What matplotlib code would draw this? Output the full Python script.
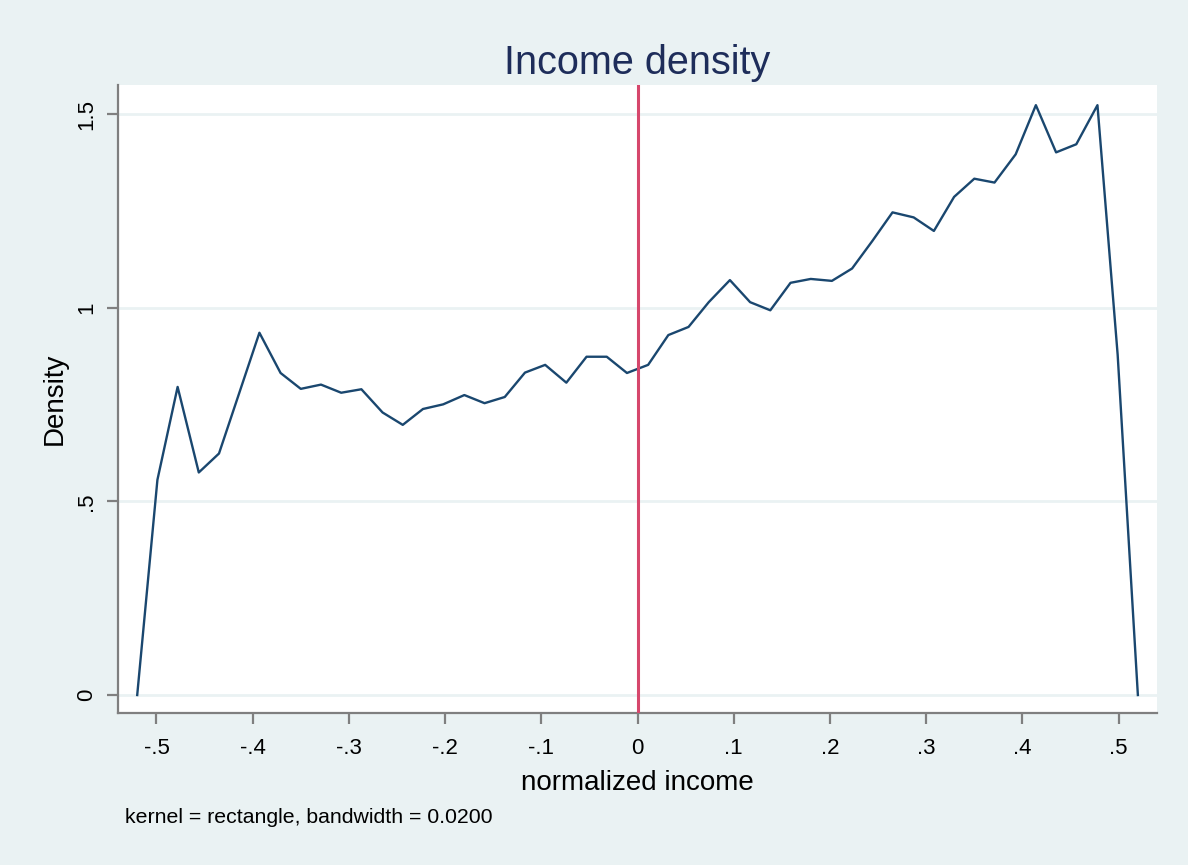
import matplotlib.pyplot as plt

# evaluation points of the kernel density (50 points)
income = [-0.520, -0.499, -0.478, -0.456, -0.435, -0.414, -0.393, -0.371, -0.350, -0.329,
          -0.308, -0.287, -0.265, -0.244, -0.223, -0.202, -0.180, -0.159, -0.138, -0.117,
          -0.096, -0.074, -0.053, -0.032, -0.011, 0.011, 0.032, 0.053, 0.074, 0.096,
          0.117, 0.138, 0.159, 0.180, 0.202, 0.223, 0.244, 0.265, 0.287, 0.308,
          0.329, 0.350, 0.371, 0.393, 0.414, 0.435, 0.456, 0.478, 0.499, 0.520]
density = [0.000, 0.556, 0.796, 0.575, 0.624, 0.780, 0.936, 0.832, 0.791, 0.802,
           0.781, 0.790, 0.730, 0.698, 0.739, 0.751, 0.775, 0.754, 0.770, 0.833,
           0.853, 0.807, 0.874, 0.874, 0.832, 0.853, 0.930, 0.951, 1.015, 1.072,
           1.015, 0.994, 1.065, 1.075, 1.070, 1.102, 1.173, 1.247, 1.234, 1.199,
           1.287, 1.334, 1.324, 1.397, 1.524, 1.402, 1.423, 1.524, 0.879, 0.000]

xticks = [-0.5, -0.4, -0.3, -0.2, -0.1, 0, 0.1, 0.2, 0.3, 0.4, 0.5]
xtick_labels = ['-.5', '-.4', '-.3', '-.2', '-.1', '0', '.1', '.2', '.3', '.4', '.5']
yticks = [0, 0.5, 1, 1.5]
ytick_labels = ['0', '.5', '1', '1.5']
cutoff = 0

bg = '#EAF2F3'
plt.rcParams['font.family'] = ['Liberation Sans', 'DejaVu Sans']

fig = plt.figure(figsize=(11.88, 8.65), dpi=100, facecolor=bg)
ax = fig.add_axes([0.0993, 0.1757, 0.8747, 0.726])
ax.set_facecolor('white')

for y in yticks:
    ax.axhline(y, color=bg, lw=2, zorder=0)

ax.plot(income, density, color='#1A476F', lw=1.7, zorder=2)
ax.axvline(cutoff, color='#D6476C', lw=2.2, zorder=3)

ax.set_xlim(-0.54, 0.54)
ax.set_ylim(-0.0465, 1.576)
ax.set_xticks(xticks)
ax.set_xticklabels(xtick_labels)
ax.set_yticks(yticks)
ax.set_yticklabels(ytick_labels, rotation=90, va='center')

for side in ['top', 'right']:
    ax.spines[side].set_visible(False)
for side in ['left', 'bottom']:
    ax.spines[side].set_color('#7F7F7F')
    ax.spines[side].set_linewidth(1.6)
ax.tick_params(colors='#7F7F7F', width=1.6, length=8, labelcolor='black',
               labelsize=16, pad=7)
ax.tick_params(axis='x', pad=10)

ax.set_xlabel('normalized income', fontsize=20, labelpad=8)
ax.set_ylabel('Density', fontsize=20, labelpad=6)
ax.set_title('Income density', fontsize=28.5, color='#1E2D5A', pad=8)

fig.text(0.105, 0.048, 'kernel = rectangle, bandwidth = 0.0200', fontsize=15.3)

fig.savefig('out.png', facecolor=bg)
